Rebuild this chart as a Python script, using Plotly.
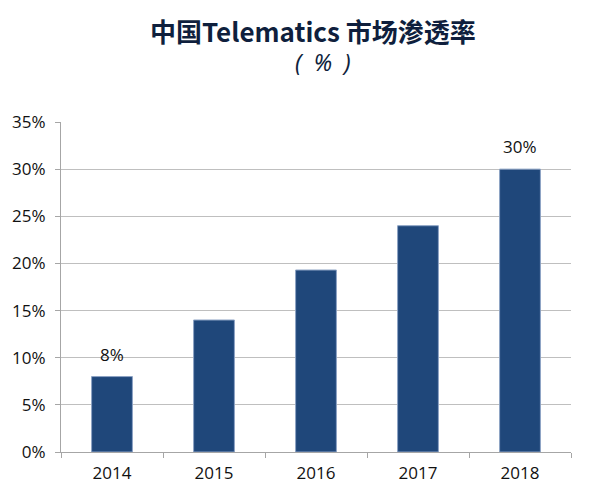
import plotly.graph_objects as go

years = ["2014", "2015", "2016", "2017", "2018"]
penetration = [8, 14, 19.3, 24, 30]
labels = ["8%", "", "", "", "30%"]
y_ticks = [0, 5, 10, 15, 20, 25, 30, 35]
y_tick_text = ["0%", "5%", "10%", "15%", "20%", "25%", "30%", "35%"]

FONT = "Open Sans, DejaVu Sans, sans-serif"

fig = go.Figure()
fig.add_trace(go.Bar(
    x=years, y=penetration,
    marker=dict(color="#1F477A", line=dict(color="#8CA3C4", width=1)),
    width=0.4,
))

L, R, T, B = 58, 29, 122, 49
pw, ph = 600 - L - R, 501 - T - B

def px_to_paper(x, y):
    return (x - L) / pw, (501 - B - y) / ph

annots = []
for i, (v, lab) in enumerate(zip(penetration, labels)):
    if lab:
        annots.append(dict(x=i, y=v, xref="x", yref="y", text=lab, showarrow=False,
                           xanchor="center", yanchor="bottom", yshift=9,
                           font=dict(size=17, color="#111111", family=FONT)))

tx, ty = px_to_paper(311, 30)
sx, sy = px_to_paper(322, 62)
annots.append(dict(text="<b>中国Telematics 市场渗透率</b>", x=tx, y=ty, xref="paper", yref="paper",
                   xanchor="center", yanchor="middle", showarrow=False,
                   font=dict(size=26, color="#0F1F3D", family="Noto Sans CJK SC, sans-serif")))
annots.append(dict(text="<i>(  %  )</i>", x=sx, y=sy, xref="paper", yref="paper",
                   xanchor="center", yanchor="middle", showarrow=False,
                   font=dict(size=23, color="#0F1F3D", family="Noto Sans, sans-serif")))

fig.update_layout(
    width=600, height=501,
    margin=dict(l=L, r=R, t=T, b=B),
    paper_bgcolor="white", plot_bgcolor="white",
    showlegend=False,
    font=dict(family=FONT, color="#111111"),
    annotations=annots,
)

fig.update_xaxes(
    type="category", categoryorder="array", categoryarray=years,
    range=[-0.5, len(years) - 0.5],
    showline=True, linecolor="#A6A6A6", linewidth=1,
    ticks="outside", tickson="boundaries", ticklen=5, tickcolor="#A6A6A6",
    tickfont=dict(size=17, color="#111111"), showgrid=False,
    ticklabelstandoff=6,
)
fig.update_yaxes(
    range=[0, 35], tickvals=y_ticks, ticktext=y_tick_text,
    showline=True, linecolor="#A6A6A6", linewidth=1,
    ticks="outside", ticklen=5, tickcolor="#A6A6A6",
    showgrid=True, gridcolor="#BFBFBF", gridwidth=1,
    tickfont=dict(size=17, color="#111111"), zeroline=False,
    ticklabelstandoff=6,
)

fig.write_html("out.html")
